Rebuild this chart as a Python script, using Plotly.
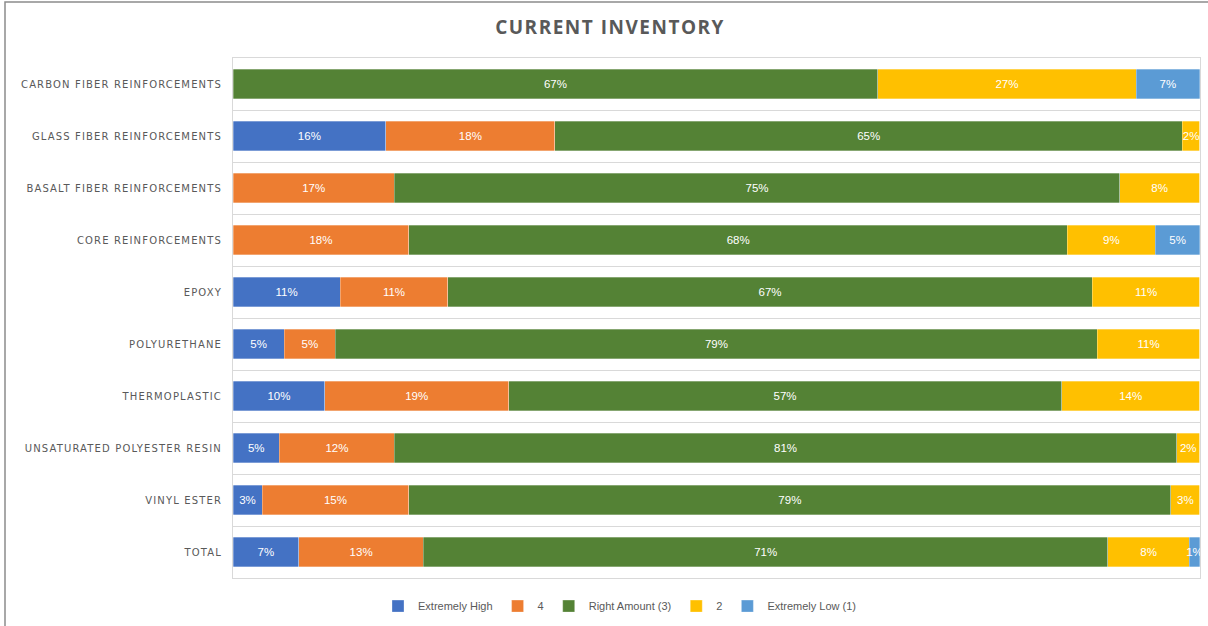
import plotly.graph_objects as go

categories = [
    "CARBON FIBER REINFORCEMENTS",
    "GLASS FIBER REINFORCEMENTS",
    "BASALT FIBER REINFORCEMENTS",
    "CORE REINFORCEMENTS",
    "EPOXY",
    "POLYURETHANE",
    "THERMOPLASTIC",
    "UNSATURATED POLYESTER RESIN",
    "VINYL ESTER",
    "TOTAL",
]

series_names = ["Extremely High", "4", "Right Amount (3)", "2", "Extremely Low (1)"]

extremely_high = [0, 15.8, 0, 0, 11.1, 5.3, 9.5, 4.8, 3.0, 6.8]
four = [0, 17.5, 16.7, 18.2, 11.1, 5.3, 19.0, 11.9, 15.2, 12.9]
right_amount = [66.7, 64.9, 75.0, 68.1, 66.7, 78.8, 57.2, 80.9, 78.8, 70.8]
two = [26.7, 1.8, 8.3, 9.1, 11.1, 10.6, 14.3, 2.4, 3.0, 8.4]
extremely_low = [6.6, 0, 0, 4.6, 0, 0, 0, 0, 0, 1.1]

series_values = [extremely_high, four, right_amount, two, extremely_low]
colors = ["#4472C4", "#ED7D31", "#548235", "#FFC000", "#5B9BD5"]

fig = go.Figure()
for name, vals, col in zip(series_names, series_values, colors):
    texts = [f"{v:.0f}%" if v > 0 else "" for v in vals]
    fig.add_trace(go.Bar(
        y=categories, x=vals, name=name, orientation="h",
        marker=dict(color=col, line=dict(color="rgba(255,255,255,0.6)", width=0.5)),
        text=texts, textposition="inside", insidetextanchor="middle", textangle=0,
        textfont=dict(color="white", size=11.5, family="Liberation Sans, Arial"),
        constraintext="none", cliponaxis=False,
        hovertemplate="%{y}: %{x:.1f}%<extra>" + name + "</extra>",
    ))

fig.update_layout(
    barmode="stack",
    bargap=0.44,
    width=1208, height=626,
    paper_bgcolor="white", plot_bgcolor="white",
    margin=dict(l=233, r=8, t=58, b=48, autoexpand=False),
    title=dict(text="<b>CURRENT INVENTORY</b>", x=0.505, xanchor="center", y=0.957, yanchor="middle",
               font=dict(family="Open Sans, Arial", size=19, color="#595959")),
    legend=dict(orientation="h", x=(620 - 233) / 967, xanchor="center",
                y=-0.054, yanchor="middle",
                font=dict(family="Liberation Sans, Arial", size=11, color="#595959"),
                itemwidth=30, traceorder="normal"),
    uniformtext=dict(minsize=8, mode="show"),
    shapes=[dict(type="rect", xref="paper", yref="paper",
                 x0=-(233 - 5) / 967, x1=1.05, y0=-0.2, y1=1 + (58 - 2) / 520,
                 line=dict(color="#8c8c8c", width=1.5), layer="below")],
)
fig.update_xaxes(range=[0, 100.02], showticklabels=False, showgrid=False, zeroline=False,
                 showline=True, linecolor="#d9d9d9", mirror=True)
fig.update_yaxes(autorange="reversed", tickson="boundaries", showgrid=True, gridcolor="#d9d9d9",
                 ticks="", showline=True, linecolor="#d9d9d9", mirror=True,
                 tickfont=dict(family="DejaVu Sans", size=10, color="#595959"), ticklabelstandoff=8)

post = """
document.body.style.margin = '0';
document.body.style.overflow = 'hidden';
var gd = document.getElementById('{plot_id}');
function styleText() {
  gd.querySelectorAll('.ytick text').forEach(function(t){ t.style.letterSpacing = '1.15px'; });
  gd.querySelectorAll('.gtitle').forEach(function(t){ t.style.letterSpacing = '1.5px'; });
}
styleText();
gd.on('plotly_afterplot', styleText);
"""

fig.write_html("out.html", post_script=post, config={"displayModeBar": False})
